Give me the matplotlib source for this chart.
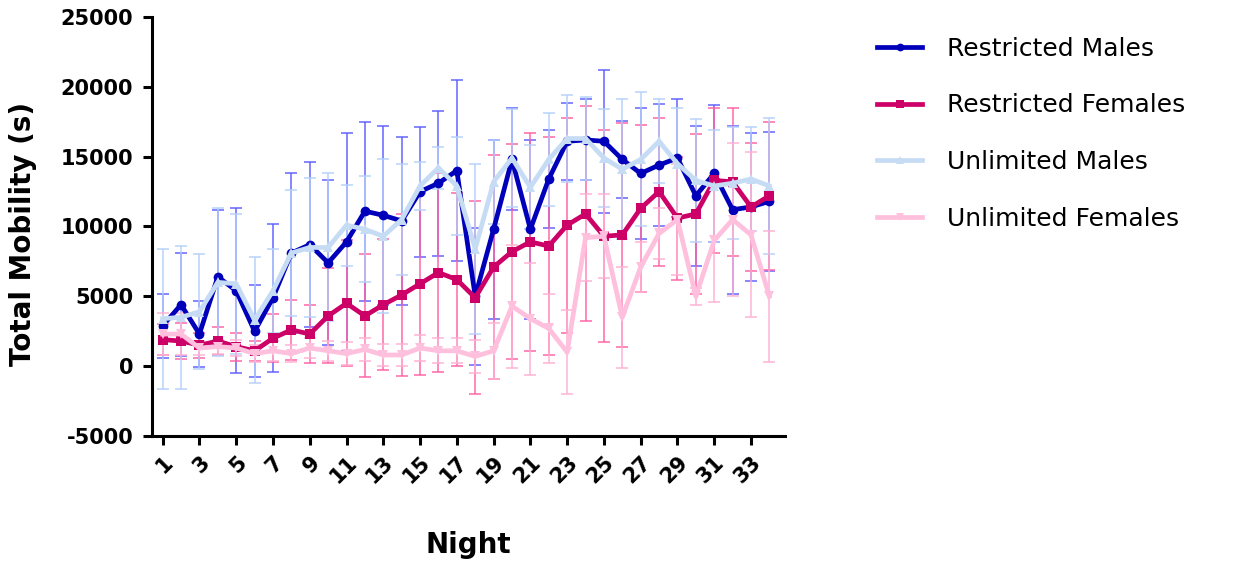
import matplotlib
matplotlib.use("Agg")
import matplotlib.pyplot as plt
import numpy as np

nights = list(range(1, 35))
xtick_labels = [str(n) for n in range(1, 34, 2)]

series_names = ["Restricted Males", "Restricted Females", "Unlimited Males", "Unlimited Females"]

rm_mean = [2900, 4400, 2300, 6400, 5400, 2500, 4900, 8100, 8700, 7400, 8900, 11100, 10800, 10400,
           12500, 13100, 14000, 5000, 9800, 14800, 9800, 13400, 16100, 16200, 16100, 14800, 13800,
           14400, 14900, 12200, 13800, 11200, 11400, 11800]
rm_err = [2300, 3700, 2350, 4800, 5900, 3300, 5300, 5750, 5900, 5900, 7800, 6400, 6400, 6000,
          4650, 5200, 6500, 4900, 6400, 3650, 6400, 3500, 2750, 2900, 5100, 2750, 4700, 4400,
          4200, 5000, 4900, 6000, 5300, 5000]

rf_mean = [1900, 1800, 1500, 1800, 1400, 1100, 2000, 2600, 2300, 3600, 4500, 3600, 4400, 5100,
           5900, 6700, 6200, 4900, 7100, 8200, 8900, 8600, 10100, 10900, 9300, 9400, 11300, 12500,
           10600, 10900, 13300, 13200, 11400, 12200]
rf_err = [1100, 1300, 900, 1000, 1000, 700, 1700, 2150, 2070, 3400, 4500, 4400, 4700, 5800,
          6500, 7100, 6200, 6900, 8000, 7700, 7800, 7800, 7700, 7700, 7600, 8000, 6000, 5300,
          4400, 5700, 5200, 5300, 4600, 5300]

um_mean = [3400, 3500, 3900, 6000, 5900, 3300, 5400, 8100, 8500, 8500, 10100, 9800, 9300, 10500,
           12900, 14200, 12900, 8400, 13200, 14900, 12800, 14800, 16300, 16300, 14900, 14100, 14800,
           16100, 14500, 13300, 12900, 13100, 13400, 12900]
um_err = [5000, 5100, 4100, 5300, 5000, 4500, 3000, 4500, 5000, 5300, 2900, 3800, 5500, 4000,
          1700, 1500, 3500, 6100, 3000, 3500, 3000, 3300, 3100, 3000, 3500, 5000, 4800, 3000,
          4000, 4400, 4000, 4000, 3700, 4900]

uf_mean = [2300, 2300, 1300, 1400, 1300, 900, 1100, 900, 1300, 1100, 900, 1200, 800, 800,
           1300, 1100, 1100, 700, 1100, 4300, 3400, 2700, 1000, 9200, 9300, 3500, 7100, 9500,
           10500, 5000, 9000, 10500, 9400, 5000]
uf_err = [1500, 1500, 500, 500, 600, 600, 700, 600, 700, 700, 800, 800, 800, 800,
          900, 900, 900, 1200, 2000, 4400, 4000, 2450, 3000, 3100, 3000, 3600, 1800, 1800,
          4000, 600, 4400, 5500, 5900, 4700]

means = [rm_mean, rf_mean, um_mean, uf_mean]
errs = [rm_err, rf_err, um_err, uf_err]
line_colors = ["#0000bb", "#cc0066", "#c6dcf5", "#ffc0dd"]
err_colors = ["#5c5cff", "#ff5fa3", "#b4d0fb", "#ffb0d2"]
markers = ["o", "s", "^", "v"]

plt.rcParams["font.family"] = ["DejaVu Sans"]
plt.rcParams["axes.unicode_minus"] = False

fig = plt.figure(figsize=(12.51, 5.62), dpi=100)
ax = fig.add_axes([152 / 1251, 1 - 436 / 562, (785 - 152) / 1251, (436 - 17) / 562])

for m, e, ec in zip(means, errs, err_colors):
    ax.errorbar(nights, m, yerr=e, fmt="none", ecolor=ec, elinewidth=1.3,
                capsize=4.5, capthick=1.3, alpha=0.8, zorder=2)

for i, (m, lc, mk, name) in enumerate(zip(means, line_colors, markers, series_names)):
    ax.plot(nights, m, color=lc, lw=3.4, marker=mk, markersize=7,
            markeredgewidth=0, label=name, zorder=3 + i)

ax.set_xlim(0.42, 34.85)
ax.set_ylim(-5000, 25000)
ax.set_yticks(np.arange(-5000, 25001, 5000))
ax.set_xticks(list(range(1, 34, 2)))
ax.set_xticklabels(xtick_labels, rotation=45, ha="right", va="top",
                   rotation_mode="anchor")

for s in ["top", "right"]:
    ax.spines[s].set_visible(False)
for s in ["left", "bottom"]:
    ax.spines[s].set_linewidth(2.2)
ax.tick_params(axis="both", width=2.2, length=6.5, labelsize=15, direction="out")
ax.tick_params(axis="y", pad=7)
ax.tick_params(axis="x", pad=5)
for lab in ax.get_xticklabels() + ax.get_yticklabels():
    lab.set_fontweight("bold")

ax.set_ylabel("Total Mobility (s)", fontsize=20, fontweight="bold", va="center")
ax.yaxis.set_label_coords(-129 / 633, (436 - 233.5) / 419)
ax.set_xlabel("Night", fontsize=20, fontweight="bold", va="center")
ax.xaxis.set_label_coords(0.5, -109 / 419)

leg = ax.legend(loc="upper left", bbox_to_anchor=(877 / 1251, 1 - 37 / 562),
                bbox_transform=fig.transFigure, frameon=False, fontsize=18,
                handlelength=1.8, handletextpad=1.0, labelspacing=1.3,
                borderpad=0, borderaxespad=0, markerscale=0.8)

fig.savefig("out.png", dpi=100)
